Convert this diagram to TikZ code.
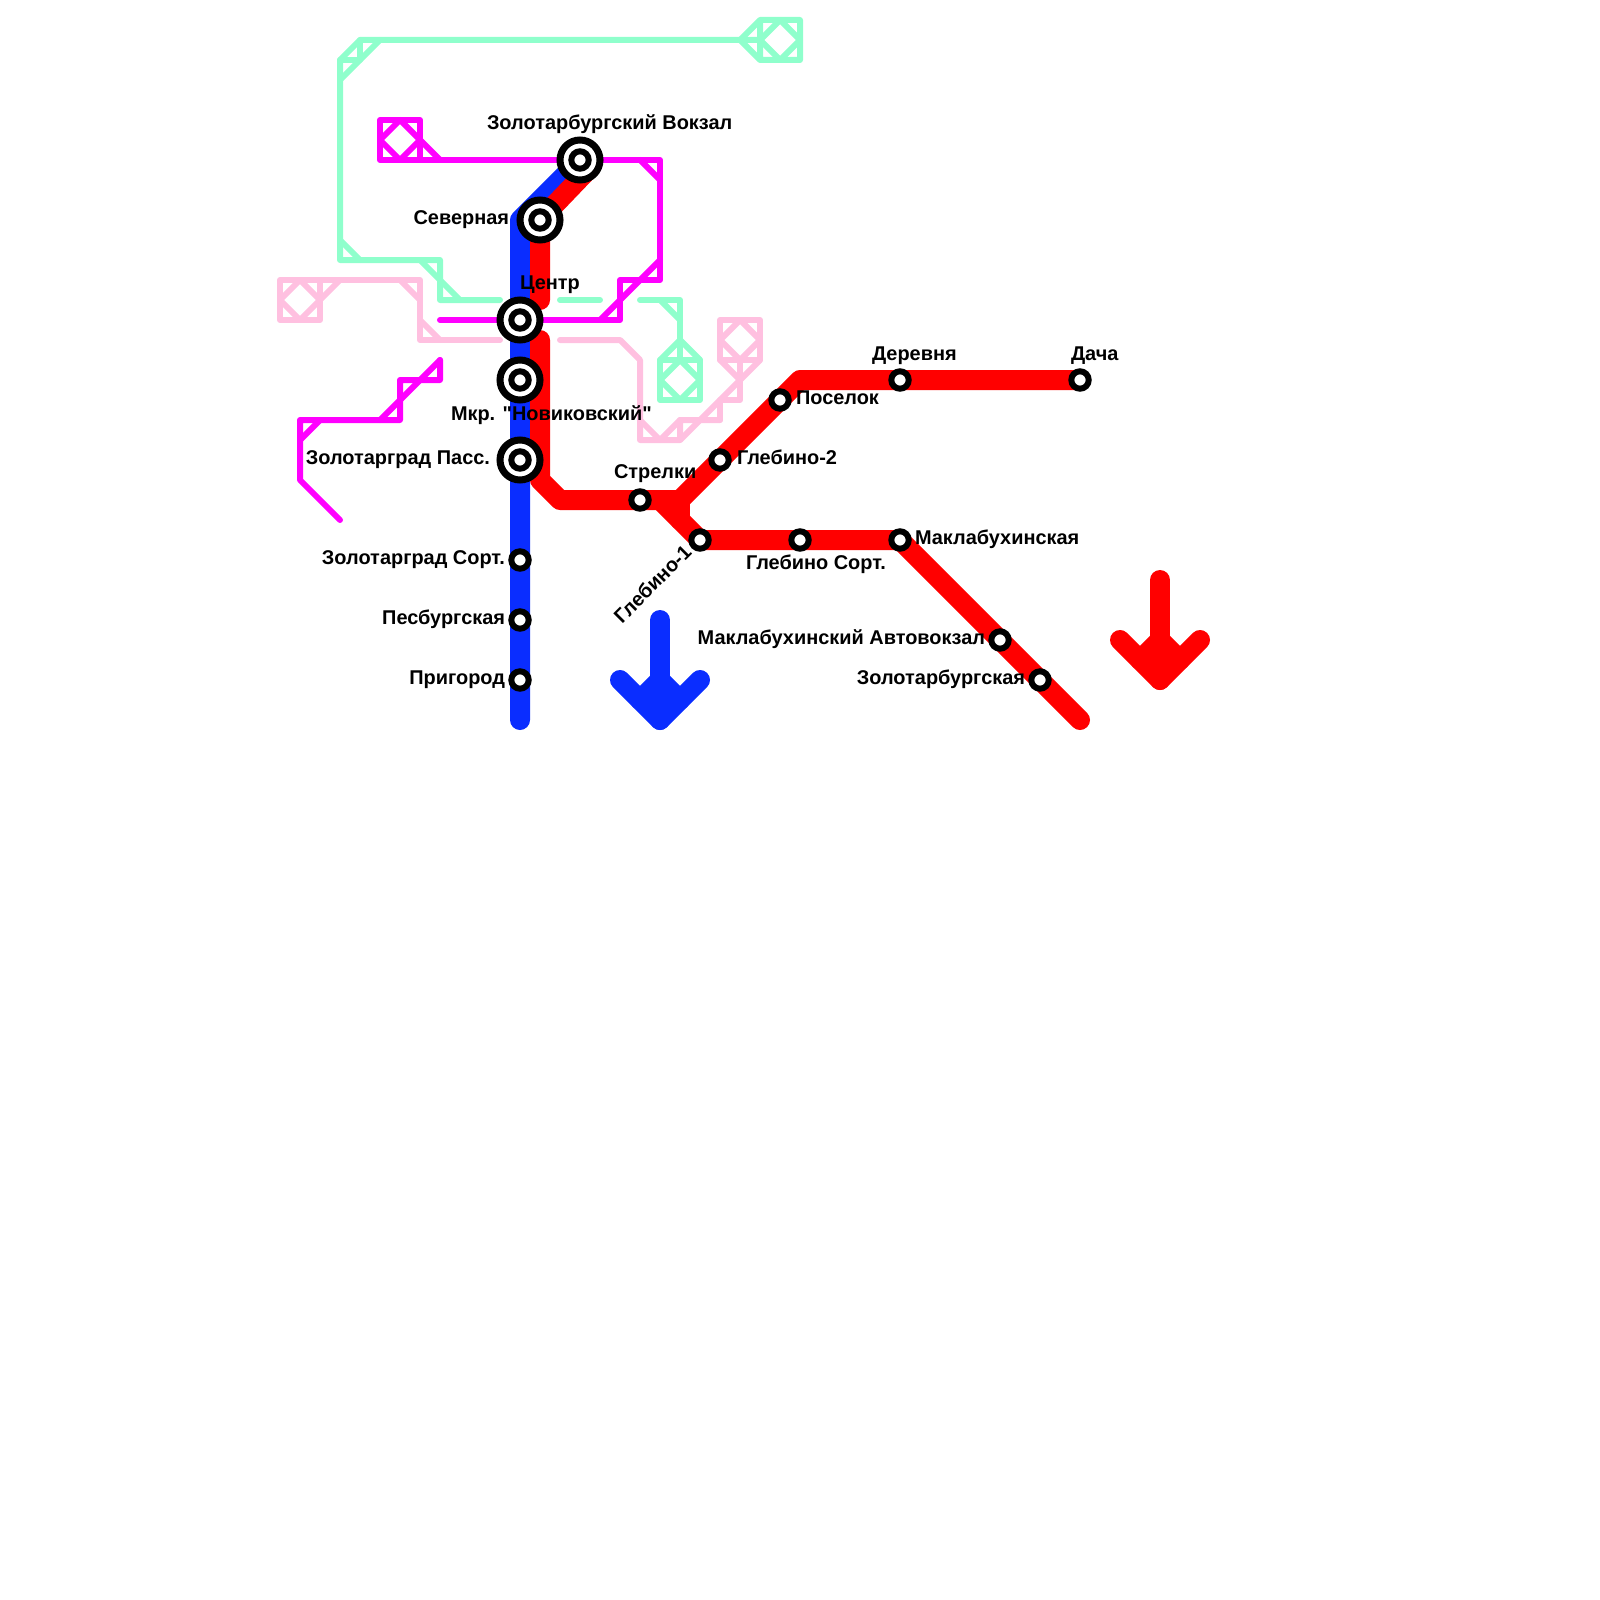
\documentclass[tikz,border=0pt]{standalone}
\usepackage{fontspec}
\newfontfamily\lblfont{Liberation Sans}
\definecolor{lineblue}{HTML}{0A2DFF}
\definecolor{linemint}{HTML}{8FFFCC}
\definecolor{linepink}{HTML}{FFC0E0}
\definecolor{linemag}{HTML}{FF00FF}
\begin{document}
\begin{tikzpicture}[x=.4cm, y=-.4cm,
	thickline/.style={line width=.4cm, line cap=round, line join=round},
	thinline/.style={line width=.12cm, line cap=round, line join=round},
	bigst/.style={circle, draw=black, fill=white, line width=.14cm, minimum size=.8cm, inner sep=0, outer sep=0},
	smallst/.style={circle, draw=black, fill=white, line width=.12cm, minimum size=.348cm, inner sep=0, outer sep=0},
	lbl/.style={font=\fontsize{11.34pt}{13pt}\lblfont\bfseries, inner sep=0, outer sep=0}]
	\useasboundingbox (0,0) rectangle (80,80);
	
	\coordinate (vokzal) at (29,8);
	\coordinate (severnaya) at (27,11);
	\coordinate (centr) at (26,16);
	\coordinate (novik) at (26,19);
	\coordinate (zolPass) at (26,23);
	\coordinate (zolSort) at (26,28);
	\coordinate (pesburg) at (26,31);
	\coordinate (prigorod) at (26,34);
	\coordinate (strelki) at (32,25);
	\coordinate (glebOne) at (35,27);
	\coordinate (glebTwo) at (36,23);
	\coordinate (poselok) at (39,20);
	\coordinate (derevnya) at (45,19);
	\coordinate (dacha) at (54,19);
	\coordinate (glebSort) at (40,27);
	\coordinate (maklab) at (45,27);
	\coordinate (maklAvto) at (50,32);
	\coordinate (zolBurg) at (52,34);
	
	% blue line
	\draw[thickline, lineblue] (26,36) -- (prigorod) -- (26,11) -- (vokzal);
	\draw[thickline, lineblue] (33,31) -- (33,36);
	\draw[thickline, lineblue] (31,34) -- (33,36) -- (35,34);
	\draw[thickline, lineblue] (32,35) -- (33,34) -- (34,35);
	
	% red line
	\draw[thickline, red] (29.35,8.55) -- (severnaya) -- (27,15);
	\draw[thickline, red] (27,17) -- (27,24) -- (28,25) -- (strelki) -- (34,25) -- (glebTwo) -- (poselok) -- (40,19) -- (derevnya) -- (dacha);
	\draw[thickline, red] (33,25) -- (glebOne) -- (glebSort) -- (maklab) -- (maklAvto) -- (zolBurg) -- (54,36);
	\draw[thickline, red] (34,25) -- (34,26);
	\draw[thickline, red] (58,29) -- (58,34);
	\draw[thickline, red] (56,32) -- (58,34) -- (60,32);
	\draw[thickline, red] (57,33) -- (58,32) -- (59,33);
	
	% mint line
	\draw[thinline, linemint] (38,2) -- (37,2) -- (18,2) -- (17,3) -- (17,13) -- (22,13) -- (22,15) -- (25,15);
	\draw[thinline, linemint] (38,1) -- (40,1) -- (40,3) -- (38,3) -- (37,2) -- (38,1) -- (38,3);
	\draw[thinline, linemint] (39,1) -- (40,2) -- (39,3) -- (38,2) -- cycle;
	\draw[thinline, linemint] (37,2) -- (38,2);
	\draw[thinline, linemint] (18,2) -- (18,3) -- (17,3);
	\draw[thinline, linemint] (19,2) -- (17,4);
	\draw[thinline, linemint] (17,12) -- (18,13);
	\draw[thinline, linemint] (21,13) -- (23,15);
	\draw[thinline, linemint] (28,15) -- (30,15);
	\draw[thinline, linemint] (32,15) -- (34,15) -- (34,18);
	\draw[thinline, linemint] (33,15) -- (34,16);
	\draw[thinline, linemint] (33,18) -- (35,18) -- (35,20) -- (33,20) -- cycle;
	\draw[thinline, linemint] (33,18) -- (34,17) -- (35,18);
	\draw[thinline, linemint] (34,18) -- (35,19) -- (34,20) -- (33,19) -- cycle;
	
	% magenta line
	\draw[thinline, linemag] (19,6) -- (21,6) -- (21,8) -- (19,8) -- cycle;
	\draw[thinline, linemag] (20,6) -- (21,7) -- (20,8) -- (19,7) -- cycle;
	\draw[thinline, linemag] (21,7) -- (22,8);
	\draw[thinline, linemag] (21,8) -- (33,8) -- (33,14) -- (31,14) -- (31,16) -- (22,16);
	\draw[thinline, linemag] (32,8) -- (33,9);
	\draw[thinline, linemag] (33,13) -- (30,16);
	\draw[thinline, linemag] (22,18) -- (19,21);
	\draw[thinline, linemag] (22,18) -- (22,19) -- (20,19) -- (20,21) -- (15,21) -- (15,24) -- (17,26);
	\draw[thinline, linemag] (16,21) -- (15,22);
	
	% pink line
	\draw[thinline, linepink] (14,14) -- (16,14) -- (16,16) -- (14,16) -- cycle;
	\draw[thinline, linepink] (15,14) -- (16,15) -- (15,16) -- (14,15) -- cycle;
	\draw[thinline, linepink] (16,15) -- (17,14);
	\draw[thinline, linepink] (16,14) -- (21,14) -- (21,17) -- (25,17);
	\draw[thinline, linepink] (20,14) -- (21,15);
	\draw[thinline, linepink] (21,16) -- (22,17);
	\draw[thinline, linepink] (28,17) -- (31,17) -- (32,18) -- (32,22) -- (34,22) -- (34,21) -- (36,21);
	\draw[thinline, linepink] (32,21) -- (33,22) -- (34,21);
	\draw[thinline, linepink] (34,22) -- (37,19);
	\draw[thinline, linepink] (36,21) -- (36,20) -- (37,20) -- (37,18);
	\draw[thinline, linepink] (36,18) -- (37,19) -- (38,18);
	\draw[thinline, linepink] (36,16) -- (38,16) -- (38,18) -- (36,18) -- cycle;
	\draw[thinline, linepink] (37,16) -- (38,17) -- (37,18) -- (36,17) -- cycle;
	
	% stations
	\node[bigst] (vokzalRing) at (vokzal){};
	\node[smallst] (vokzalDot) at (vokzal){};
	\node[bigst] (severnayaRing) at (severnaya){};
	\node[smallst] (severnayaDot) at (severnaya){};
	\node[bigst] (centrRing) at (centr){};
	\node[smallst] (centrDot) at (centr){};
	\node[bigst] (novikRing) at (novik){};
	\node[smallst] (novikDot) at (novik){};
	\node[bigst] (zolPassRing) at (zolPass){};
	\node[smallst] (zolPassDot) at (zolPass){};
	\node[smallst] (zolSortDot) at (zolSort){};
	\node[smallst] (pesburgDot) at (pesburg){};
	\node[smallst] (prigorodDot) at (prigorod){};
	\node[smallst] (strelkiDot) at (strelki){};
	\node[smallst] (glebOneDot) at (glebOne){};
	\node[smallst] (glebTwoDot) at (glebTwo){};
	\node[smallst] (poselokDot) at (poselok){};
	\node[smallst] (derevnyaDot) at (derevnya){};
	\node[smallst] (dachaDot) at (dacha){};
	\node[smallst] (glebSortDot) at (glebSort){};
	\node[smallst] (maklabDot) at (maklab){};
	\node[smallst] (maklAvtoDot) at (maklAvto){};
	\node[smallst] (zolBurgDot) at (zolBurg){};
	
	% labels
	\node[lbl, anchor=base west] (vokzalLbl) at (24.35,6.5){Золотарбургский Вокзал};
	\node[lbl, anchor=base east] (severnayaLbl) at (25.45,11.22){Северная};
	\node[lbl, anchor=base west] (centrLbl) at (26,14.45){Центр};
	\node[lbl, anchor=base west] (novikLbl) at (22.55,21){Мкр. "Новиковский"};
	\node[lbl, anchor=base east] (zolPassLbl) at (24.5,23.22){Золотарград Пасс.};
	\node[lbl, anchor=base east] (zolSortLbl) at (25.25,28.22){Золотарград Сорт.};
	\node[lbl, anchor=base east] (pesburgLbl) at (25.25,31.22){Песбургская};
	\node[lbl, anchor=base east] (prigorodLbl) at (25.25,34.22){Пригород};
	\node[lbl, anchor=base west] (strelkiLbl) at (30.7,23.9){Стрелки};
	\node[lbl, anchor=base west, rotate=45] (glebOneLbl) at (31.1,31.22){Глебино-1};
	\node[lbl, anchor=base west] (glebTwoLbl) at (36.85,23.22){Глебино-2};
	\node[lbl, anchor=base west] (poselokLbl) at (39.8,20.22){Поселок};
	\node[lbl, anchor=base west] (derevnyaLbl) at (43.6,18){Деревня};
	\node[lbl, anchor=base west] (dachaLbl) at (53.55,18){Дача};
	\node[lbl, anchor=base west] (glebSortLbl) at (37.3,28.45){Глебино Сорт.};
	\node[lbl, anchor=base west] (maklabLbl) at (45.75,27.22){Маклабухинская};
	\node[lbl, anchor=base east] (maklAvtoLbl) at (49.25,32.22){Маклабухинский Автовокзал};
	\node[lbl, anchor=base east] (zolBurgLbl) at (51.25,34.22){Золотарбургская};
\end{tikzpicture}
\end{document}
